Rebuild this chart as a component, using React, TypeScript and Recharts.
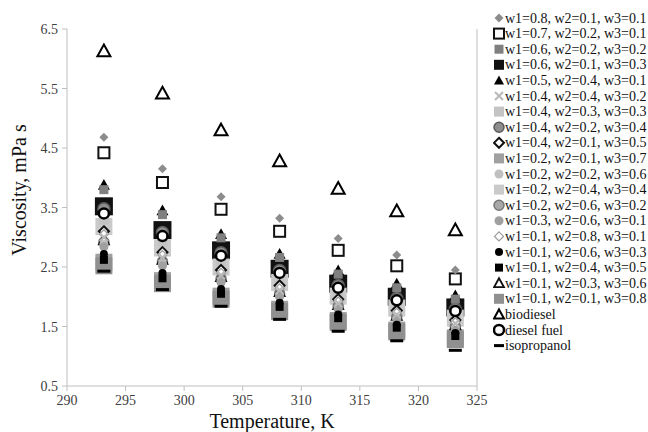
import React from "react";
import {
  ScatterChart,
  Scatter,
  XAxis,
  YAxis,
  ReferenceLine,
} from "recharts";

// temperatures, K
const temps = [293.15, 298.15, 303.15, 308.15, 313.15, 318.15, 323.15];

// viscosity, mPa s
const s1 = [4.68, 4.15, 3.68, 3.32, 2.98, 2.70, 2.45];
const s2 = [4.42, 3.92, 3.47, 3.10, 2.78, 2.52, 2.30];
const s3 = [3.80, 3.38, 2.99, 2.66, 2.38, 2.15, 1.96];
const s4 = [3.52, 3.12, 2.78, 2.47, 2.22, 2.00, 1.82];
const s5 = [3.88, 3.45, 3.05, 2.72, 2.44, 2.22, 2.02];
const s6 = [3.00, 2.66, 2.36, 2.11, 1.89, 1.70, 1.55];
const s7 = [3.30, 2.93, 2.60, 2.32, 2.08, 1.87, 1.70];
const s8 = [3.48, 3.08, 2.74, 2.44, 2.19, 1.97, 1.79];
const s9 = [3.10, 2.75, 2.45, 2.19, 1.96, 1.77, 1.61];
const s10 = [2.58, 2.27, 2.01, 1.79, 1.60, 1.44, 1.31];
const s11 = [2.88, 2.55, 2.27, 2.03, 1.82, 1.64, 1.48];
const s12 = [3.18, 2.82, 2.50, 2.24, 2.01, 1.81, 1.64];
const s13 = [2.92, 2.59, 2.30, 2.05, 1.84, 1.66, 1.50];
const s14 = [2.84, 2.52, 2.24, 2.00, 1.79, 1.62, 1.46];
const s15 = [3.05, 2.70, 2.40, 2.14, 1.92, 1.73, 1.57];
const s16 = [2.72, 2.40, 2.13, 1.90, 1.70, 1.53, 1.39];
const s17 = [2.62, 2.31, 2.05, 1.83, 1.64, 1.48, 1.34];
const s18 = [2.95, 2.62, 2.33, 2.08, 1.86, 1.68, 1.52];
const s19 = [2.52, 2.22, 1.96, 1.75, 1.57, 1.41, 1.28];
const biodiesel = [6.13, 5.42, 4.80, 4.28, 3.82, 3.44, 3.12];
const dieselFuel = [3.40, 3.02, 2.69, 2.40, 2.15, 1.94, 1.76];
const isopropanol = [2.43, 2.12, 1.84, 1.62, 1.42, 1.26, 1.10];

const xTicks = [290, 295, 300, 305, 310, 315, 320, 325];
const yTicks = [0.5, 1.5, 2.5, 3.5, 4.5, 5.5, 6.5];

type Mark = {
  kind: "diamond" | "square" | "triangle" | "circle" | "x" | "dash";
  size: number;
  fill: string;
  stroke?: string;
  sw?: number;
};

const series: { name: string; values: number[]; mark: Mark }[] = [
  { name: "w1=0.8, w2=0.1, w3=0.1", values: s1, mark: { kind: "diamond", size: 9, fill: "#8c8c8c" } },
  { name: "w1=0.7, w2=0.2, w3=0.1", values: s2, mark: { kind: "square", size: 11, fill: "#fff", stroke: "#111", sw: 2 } },
  { name: "w1=0.6, w2=0.2, w3=0.2", values: s3, mark: { kind: "square", size: 9, fill: "#808080" } },
  { name: "w1=0.6, w2=0.1, w3=0.3", values: s4, mark: { kind: "square", size: 18, fill: "#111" } },
  { name: "w1=0.5, w2=0.4, w3=0.1", values: s5, mark: { kind: "triangle", size: 12, fill: "#000" } },
  { name: "w1=0.4, w2=0.4, w3=0.2", values: s6, mark: { kind: "x", size: 8, fill: "none", stroke: "#b8b8b8", sw: 2 } },
  { name: "w1=0.4, w2=0.3, w3=0.3", values: s7, mark: { kind: "square", size: 10, fill: "#c4c4c4" } },
  { name: "w1=0.4, w2=0.2, w3=0.4", values: s8, mark: { kind: "circle", size: 12, fill: "#8e8e8e", stroke: "#5a5a5a", sw: 1.5 } },
  { name: "w1=0.4, w2=0.1, w3=0.5", values: s9, mark: { kind: "diamond", size: 10, fill: "#fff", stroke: "#111", sw: 2 } },
  { name: "w1=0.2, w2=0.1, w3=0.7", values: s10, mark: { kind: "square", size: 17, fill: "#a0a0a0" } },
  { name: "w1=0.2, w2=0.2, w3=0.6", values: s11, mark: { kind: "circle", size: 9, fill: "#c0c0c0" } },
  { name: "w1=0.2, w2=0.4, w3=0.4", values: s12, mark: { kind: "square", size: 17, fill: "#cacaca" } },
  { name: "w1=0.2, w2=0.6, w3=0.2", values: s13, mark: { kind: "circle", size: 10, fill: "#a8a8a8", stroke: "#777", sw: 1.5 } },
  { name: "w1=0.3, w2=0.6, w3=0.1", values: s14, mark: { kind: "circle", size: 9, fill: "#a0a0a0" } },
  { name: "w1=0.1, w2=0.8, w3=0.1", values: s15, mark: { kind: "diamond", size: 9, fill: "#fff", stroke: "#999", sw: 1.2 } },
  { name: "w1=0.1, w2=0.6, w3=0.3", values: s16, mark: { kind: "circle", size: 8, fill: "#000" } },
  { name: "w1=0.1, w2=0.4, w3=0.5", values: s17, mark: { kind: "square", size: 8, fill: "#000" } },
  { name: "w1=0.1, w2=0.3, w3=0.6", values: s18, mark: { kind: "triangle", size: 10, fill: "#fff", stroke: "#111", sw: 1.8 } },
  { name: "w1=0.1, w2=0.1, w3=0.8", values: s19, mark: { kind: "square", size: 17, fill: "#909090" } },
  { name: "biodiesel", values: biodiesel, mark: { kind: "triangle", size: 13, fill: "#fff", stroke: "#000", sw: 2 } },
  { name: "diesel fuel", values: dieselFuel, mark: { kind: "circle", size: 10, fill: "#fff", stroke: "#000", sw: 2.5 } },
  { name: "isopropanol", values: isopropanol, mark: { kind: "dash", size: 13, fill: "#000" } },
];

function Marker({ cx, cy, m }: { cx: number; cy: number; m: Mark }) {
  const h = m.size / 2;
  const st = { fill: m.fill, stroke: m.stroke || "none", strokeWidth: m.sw || 0 };
  if (m.kind === "square")
    return <rect x={cx - h} y={cy - h} width={m.size} height={m.size} {...st} />;
  if (m.kind === "circle") return <circle cx={cx} cy={cy} r={h} {...st} />;
  if (m.kind === "diamond")
    return <polygon points={`${cx},${cy - h} ${cx + h},${cy} ${cx},${cy + h} ${cx - h},${cy}`} {...st} />;
  if (m.kind === "triangle")
    return <polygon points={`${cx},${cy - h} ${cx + h},${cy + h * 0.8} ${cx - h},${cy + h * 0.8}`} {...st} />;
  if (m.kind === "x")
    return (
      <path d={`M${cx - h},${cy - h}L${cx + h},${cy + h}M${cx + h},${cy - h}L${cx - h},${cy + h}`} {...st} />
    );
  return <rect x={cx - h} y={cy - 1.5} width={m.size} height={3} fill={m.fill} />;
}

// big markers first so the small ones stay visible on top
const drawOrder = series
  .map((s, i) => i)
  .sort((a, b) => series[b].mark.size - series[a].mark.size || a - b);

function LegendBox() {
  return (
    <svg width={155} height={360} style={{ display: "block" }}>
      {series.map((s, i) => {
        const y = 18 + i * 15.6;
        const m = { ...s.mark, size: Math.min(s.mark.size, 10) };
        return (
          <g key={s.name}>
            <Marker cx={6} cy={y} m={m} />
            <text x={12} y={y} dominantBaseline="central" fontFamily="Liberation Serif" fontSize={14} fill="#111">
              {s.name}
            </text>
          </g>
        );
      })}
    </svg>
  );
}

function XTick({ x, y, payload }: any) {
  return (
    <text x={x} y={y + 11} textAnchor="middle" fontFamily="Liberation Serif" fontSize={14} fill="#404040">
      {payload.value}
    </text>
  );
}

function YTick({ x, y, payload }: any) {
  return (
    <text x={x} y={y} dy={5} textAnchor="end" fontFamily="Liberation Serif" fontSize={14} fill="#404040">
      {Number(payload.value).toFixed(1)}
    </text>
  );
}

function Title({ tx, ty, rot, text }: { tx: number; ty: number; rot: number; text: string }) {
  return (
    <g transform={`translate(${tx} ${ty}) rotate(${rot})`}>
      <text
        x={0}
        y={0}
        textAnchor="middle"
        dominantBaseline="central"
        fontFamily="Liberation Serif"
        fontSize={20}
        fill="#111"
      >
        {text}
      </text>
    </g>
  );
}

export default function App() {
  return (
    <div style={{ position: "absolute", left: 0, top: 0, width: 648, height: 432, background: "#fff" }}>
      <ScatterChart
        width={648}
        height={432}
        margin={{ top: 29, right: 171, left: 20, bottom: 0 }}
      >
        <XAxis
          type="number"
          dataKey="x"
          domain={[290, 325]}
          ticks={xTicks}
          height={46}
          stroke="#bfbfbf"
          tickSize={5}
          tickMargin={3}
          tick={<XTick />}
          label={<Title tx={272} ty={421} rot={0} text="Temperature, K" />}
        />
        <YAxis
          type="number"
          dataKey="y"
          domain={[0.5, 6.5]}
          ticks={yTicks}
          width={47}
          stroke="#bfbfbf"
          tickSize={5}
          tickMargin={4}
          tick={<YTick />}
          label={<Title tx={19} ty={190} rot={-90} text="Viscosity, mPa s" />}
        />
        <ReferenceLine x={325} stroke="#bfbfbf" />
        {drawOrder.map((i) => {
          const s = series[i];
          return (
            <Scatter
              key={s.name}
              name={s.name}
              data={temps.map((t, k) => ({ x: t, y: s.values[k] }))}
              isAnimationActive={false}
              shape={(p: any) => <Marker cx={p.cx} cy={p.cy} m={s.mark} />}
            />
          );
        })}
      </ScatterChart>
      <div style={{ position: "absolute", left: 493, top: 0 }}>
        <LegendBox />
      </div>
    </div>
  );
}
